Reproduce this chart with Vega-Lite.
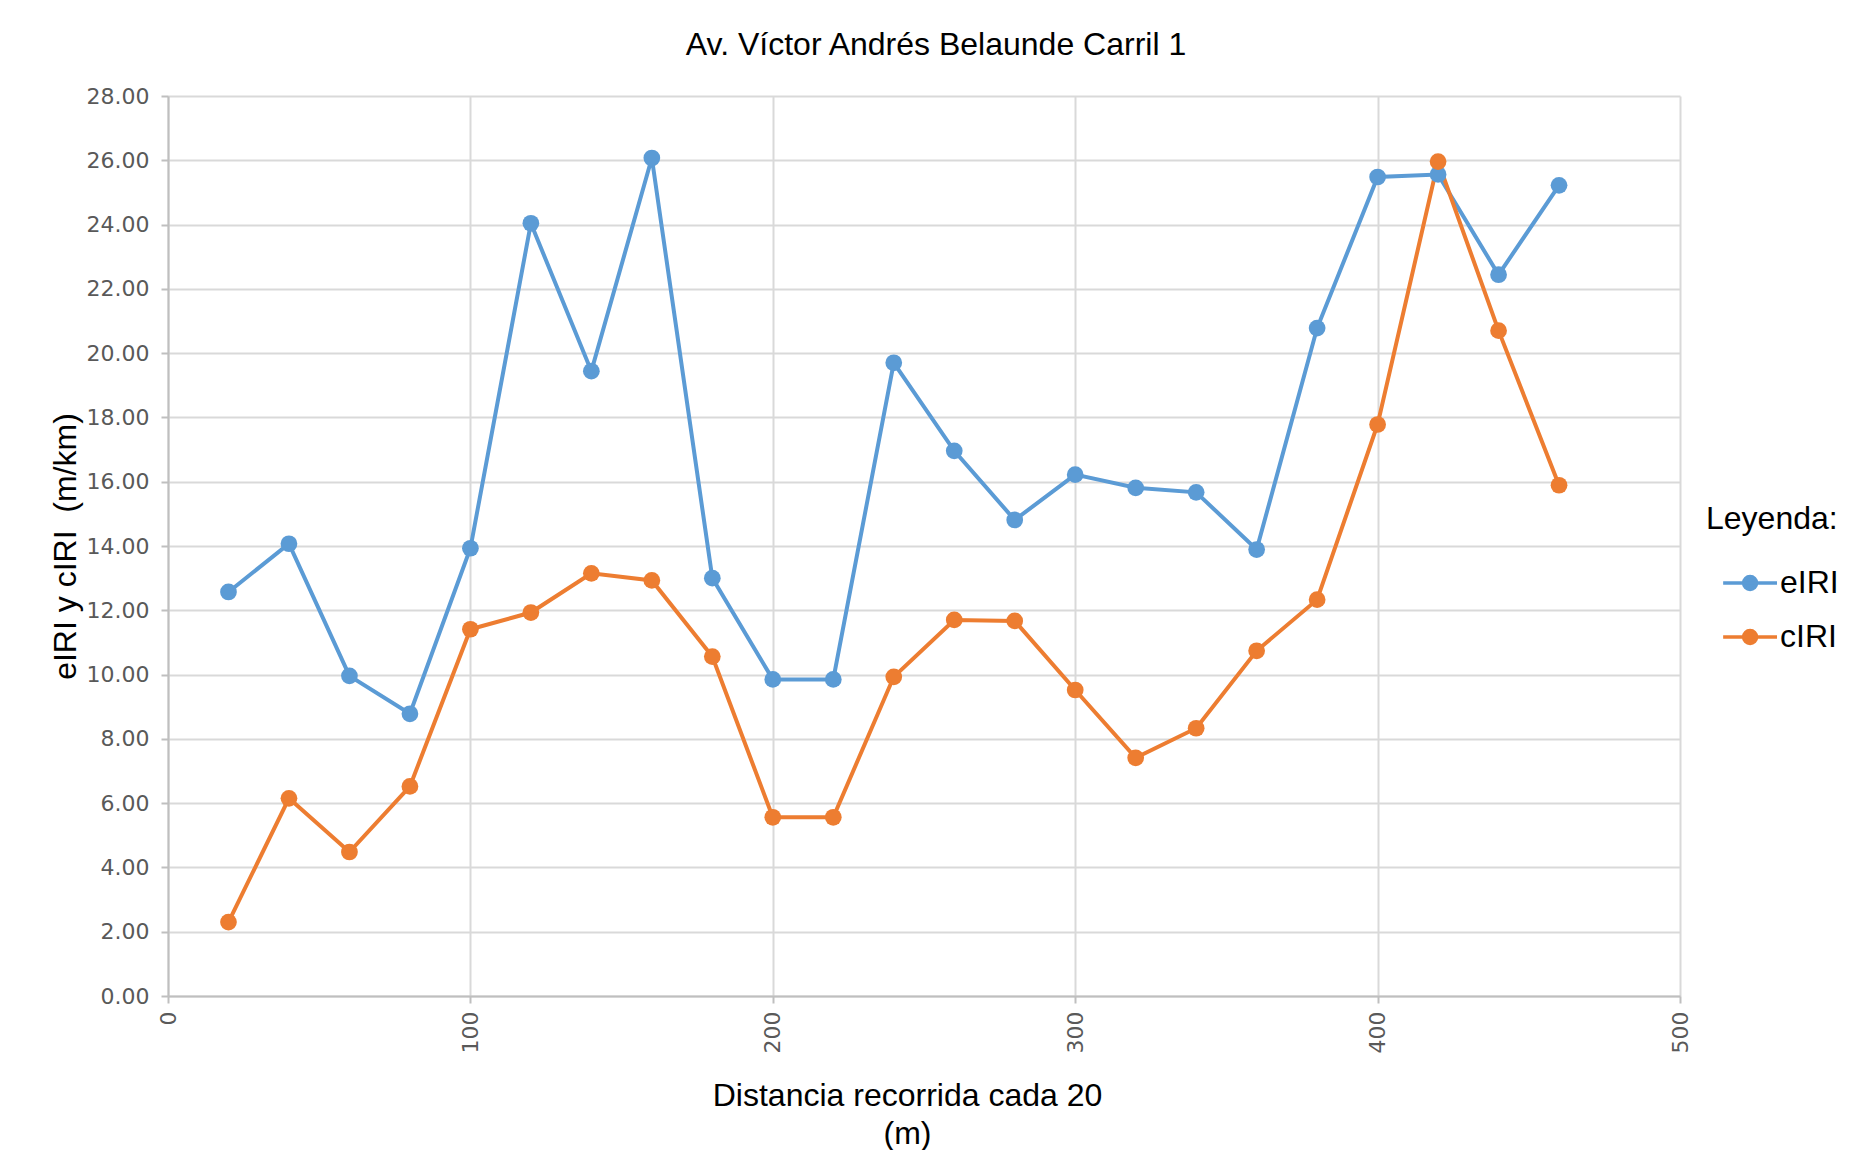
{
  "$schema": "https://vega.github.io/schema/vega-lite/v6.json",
  "width": 1512,
  "height": 900,
  "autosize": {"type": "none"},
  "padding": {"left": 168, "top": 96, "right": 185, "bottom": 154},
  "background": "white",
  "title": {"text": "Av. Víctor Andrés Belaunde Carril 1", "fontSize": 32, "font": "Liberation Sans", "fontWeight": "normal", "color": "#000000", "offset": 23, "dx": 12},
  "data": {"values": [
    {"distancia": 20, "serie": "eIRI", "valor": 12.57},
    {"distancia": 40, "serie": "eIRI", "valor": 14.07},
    {"distancia": 60, "serie": "eIRI", "valor": 9.96},
    {"distancia": 80, "serie": "eIRI", "valor": 8.78},
    {"distancia": 100, "serie": "eIRI", "valor": 13.93},
    {"distancia": 120, "serie": "eIRI", "valor": 24.04},
    {"distancia": 140, "serie": "eIRI", "valor": 19.44},
    {"distancia": 160, "serie": "eIRI", "valor": 26.07},
    {"distancia": 180, "serie": "eIRI", "valor": 13.0},
    {"distancia": 200, "serie": "eIRI", "valor": 9.85},
    {"distancia": 220, "serie": "eIRI", "valor": 9.85},
    {"distancia": 240, "serie": "eIRI", "valor": 19.7},
    {"distancia": 260, "serie": "eIRI", "valor": 16.96},
    {"distancia": 280, "serie": "eIRI", "valor": 14.81},
    {"distancia": 300, "serie": "eIRI", "valor": 16.22},
    {"distancia": 320, "serie": "eIRI", "valor": 15.81},
    {"distancia": 340, "serie": "eIRI", "valor": 15.67},
    {"distancia": 360, "serie": "eIRI", "valor": 13.89},
    {"distancia": 380, "serie": "eIRI", "valor": 20.78},
    {"distancia": 400, "serie": "eIRI", "valor": 25.48},
    {"distancia": 420, "serie": "eIRI", "valor": 25.56},
    {"distancia": 440, "serie": "eIRI", "valor": 22.44},
    {"distancia": 460, "serie": "eIRI", "valor": 25.22},
    {"distancia": 20, "serie": "cIRI", "valor": 2.3},
    {"distancia": 40, "serie": "cIRI", "valor": 6.15},
    {"distancia": 60, "serie": "cIRI", "valor": 4.48},
    {"distancia": 80, "serie": "cIRI", "valor": 6.52},
    {"distancia": 100, "serie": "cIRI", "valor": 11.41},
    {"distancia": 120, "serie": "cIRI", "valor": 11.93},
    {"distancia": 140, "serie": "cIRI", "valor": 13.15},
    {"distancia": 160, "serie": "cIRI", "valor": 12.93},
    {"distancia": 180, "serie": "cIRI", "valor": 10.56},
    {"distancia": 200, "serie": "cIRI", "valor": 5.56},
    {"distancia": 220, "serie": "cIRI", "valor": 5.56},
    {"distancia": 240, "serie": "cIRI", "valor": 9.93},
    {"distancia": 260, "serie": "cIRI", "valor": 11.7},
    {"distancia": 280, "serie": "cIRI", "valor": 11.67},
    {"distancia": 300, "serie": "cIRI", "valor": 9.52},
    {"distancia": 320, "serie": "cIRI", "valor": 7.41},
    {"distancia": 340, "serie": "cIRI", "valor": 8.33},
    {"distancia": 360, "serie": "cIRI", "valor": 10.74},
    {"distancia": 380, "serie": "cIRI", "valor": 12.33},
    {"distancia": 400, "serie": "cIRI", "valor": 17.78},
    {"distancia": 420, "serie": "cIRI", "valor": 25.96},
    {"distancia": 440, "serie": "cIRI", "valor": 20.7},
    {"distancia": 460, "serie": "cIRI", "valor": 15.89}
  ]},
  "mark": {"type": "line", "strokeWidth": 4, "point": {"filled": true, "size": 280, "opacity": 1}},
  "encoding": {
    "x": {
      "field": "distancia", "type": "quantitative",
      "scale": {"domain": [0, 500], "nice": false},
      "axis": {
        "title": ["Distancia recorrida cada 20", "(m)"],
        "values": [0, 100, 200, 300, 400, 500],
        "labelAngle": -90, "labelFont": "DejaVu Sans", "labelFontSize": 22, "labelColor": "#595959", "labelPadding": 8,
        "titleFont": "Liberation Sans", "titleFontSize": 32, "titleFontWeight": "normal", "titleColor": "#000000", "titlePadding": 28, "titleLineHeight": 38, "titleX": 739,
        "domainColor": "#BFBFBF", "domainWidth": 2, "tickColor": "#BFBFBF", "tickWidth": 2, "tickSize": 7,
        "grid": true, "gridColor": "#D9D9D9", "gridWidth": 2
      }
    },
    "y": {
      "field": "valor", "type": "quantitative",
      "scale": {"domain": [0, 28], "nice": false},
      "axis": {
        "title": "eIRI y cIRI \u00a0(m/km)",
        "values": [0, 2, 4, 6, 8, 10, 12, 14, 16, 18, 20, 22, 24, 26, 28],
        "format": ".2f",
        "labelFont": "DejaVu Sans", "labelFontSize": 22, "labelColor": "#595959", "labelPadding": 12,
        "titleFont": "Liberation Sans", "titleFontSize": 32, "titleFontWeight": "normal", "titleColor": "#000000", "titlePadding": 4,
        "domainColor": "#BFBFBF", "domainWidth": 2, "tickColor": "#BFBFBF", "tickWidth": 2, "tickSize": 7,
        "grid": true, "gridColor": "#D9D9D9", "gridWidth": 2
      }
    },
    "color": {
      "field": "serie", "type": "nominal",
      "scale": {"domain": ["eIRI", "cIRI"], "range": ["#5B9BD5", "#ED7D31"]},
      "legend": {
        "title": "Leyenda:", "orient": "none", "legendX": 1538, "legendY": 408,
        "titleFont": "Liberation Sans", "titleFontSize": 32, "titleFontWeight": "normal", "titleColor": "#000000", "titlePadding": 18,
        "labelFont": "Liberation Sans", "labelFontSize": 32, "labelColor": "#000000", "labelOffset": 16,
        "symbolType": "M-0.44,0L1.56,0M0.8,0A0.24,0.24,0,1,1,0.32,0A0.24,0.24,0,1,1,0.8,0Z",
        "symbolSize": 2900, "symbolStrokeWidth": 3.5, "symbolOpacity": 1,
        "rowPadding": 9, "padding": 0,
        "encode": {"symbols": {"update": {"fill": {"scale": "color", "field": "value"}, "stroke": {"scale": "color", "field": "value"}, "opacity": {"value": 1}}}}
      }
    }
  },
  "config": {"view": {"stroke": null}}
}
